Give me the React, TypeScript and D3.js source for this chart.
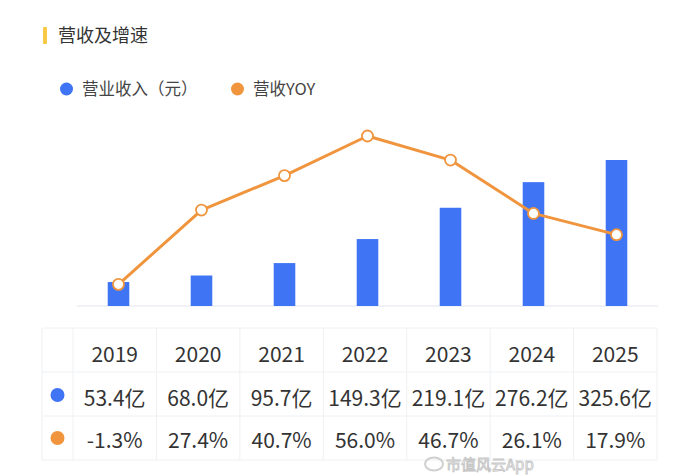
import * as d3 from "d3"

const years = ["2019", "2020", "2021", "2022", "2023", "2024", "2025"]
const revenue = [53.4, 68.0, 95.7, 149.3, 219.1, 276.2, 325.6]
const yoy = [-1.3, 27.4, 40.7, 56.0, 46.7, 26.1, 17.9]
const revenueLabels = ["53.4亿", "68.0亿", "95.7亿", "149.3亿", "219.1亿", "276.2亿", "325.6亿"]
const yoyLabels = ["-1.3%", "27.4%", "40.7%", "56.0%", "46.7%", "26.1%", "17.9%"]

const BLUE = "#3f74f5"
const ORANGE = "#f0953e"
const FONT = "'Noto Sans CJK SC', 'Noto Sans', sans-serif"

export default function App() {
  const W = 700
  const H = 475

  // chart area
  const x = d3.scaleBand().domain(years).range([77, 658]).paddingInner(0.74).paddingOuter(0.37)
  const yBar = d3.scaleLinear().domain([0, 325.6]).range([306, 160])
  const yLine = d3.scaleLinear().domain([0, 56]).range([281, 136])

  const line = d3
    .line<number>()
    .x((_, i) => (x(years[i]) as number) + x.bandwidth() / 2)
    .y((d) => yLine(d))

  // table
  const tLeft = 42
  const tRight = 657
  const col = d3.scaleBand().domain(years).range([73, tRight])
  const rowLines = [328, 372, 416, 460]
  const rowMid = [353, 397, 439]

  return (
    <svg
      width={W}
      height={H}
      style={{ position: "fixed", left: 0, top: 0, background: "#fff" }}
      fontFamily={FONT}
    >
      {/* title */}
      <rect x={43} y={27} width={4} height={17} rx={1} fill="#f7c944" />
      <text x={58} y={42} fontSize={18} fill="#333">营收及增速</text>

      {/* legend */}
      <circle cx={66.5} cy={89} r={6.5} fill={BLUE} />
      <text x={82} y={95} fontSize={16.5} fill="#444">营业收入（元）</text>
      <circle cx={237.5} cy={89} r={6.5} fill={ORANGE} />
      <text x={253} y={95} fontSize={16.5} fill="#444">营收YOY</text>

      {/* baseline */}
      <line x1={77} x2={658} y1={306} y2={306} stroke="#eceef2" strokeWidth={1.5} />

      {/* bars */}
      {revenue.map((v, i) => (
        <rect
          key={years[i]}
          x={x(years[i]) as number}
          y={yBar(v)}
          width={x.bandwidth()}
          height={yBar(0) - yBar(v)}
          fill={BLUE}
        />
      ))}

      {/* yoy line */}
      <path d={line(yoy) ?? ""} fill="none" stroke={ORANGE} strokeWidth={3} strokeLinejoin="round" />
      {yoy.map((v, i) => (
        <circle
          key={years[i]}
          cx={(x(years[i]) as number) + x.bandwidth() / 2}
          cy={yLine(v)}
          r={5.5}
          fill="#fff"
          stroke={ORANGE}
          strokeWidth={1.8}
        />
      ))}

      {/* table grid */}
      <g stroke="#eef0f3" strokeWidth={1}>
        {rowLines.map((ry) => (
          <line key={ry} x1={tLeft} x2={tRight} y1={ry} y2={ry} />
        ))}
        <line x1={tLeft} x2={tLeft} y1={rowLines[0]} y2={rowLines[3]} />
        {years.map((yr) => (
          <line key={yr} x1={col(yr) as number} x2={col(yr) as number} y1={rowLines[0]} y2={rowLines[3]} />
        ))}
        <line x1={tRight} x2={tRight} y1={rowLines[0]} y2={rowLines[3]} />
      </g>

      {/* table markers */}
      <circle cx={57.5} cy={rowMid[1] - 2} r={7} fill={BLUE} />
      <circle cx={57.5} cy={rowMid[2] - 1} r={7} fill={ORANGE} />

      {/* table text */}
      <g fontSize={21} fill="#333" textAnchor="middle" dominantBaseline="central">
        {years.map((yr, i) => {
          const cx = (col(yr) as number) + col.bandwidth() / 2
          return (
            <g key={yr}>
              <text x={cx} y={rowMid[0]}>{yr}</text>
              <text x={cx} y={rowMid[1]}>{revenueLabels[i]}</text>
              <text x={cx} y={rowMid[2]}>{yoyLabels[i]}</text>
            </g>
          )
        })}
      </g>

      {/* watermark */}
      <g opacity={0.85}>
        <ellipse cx={434} cy={464} rx={9} ry={6.5} fill="none" stroke="#c8c8c8" strokeWidth={2} />
        <text x={446} y={470} fontSize={15} fill="#fff" stroke="#bdbdbd" strokeWidth={0.9}>市值风云App</text>
      </g>
    </svg>
  )
}
